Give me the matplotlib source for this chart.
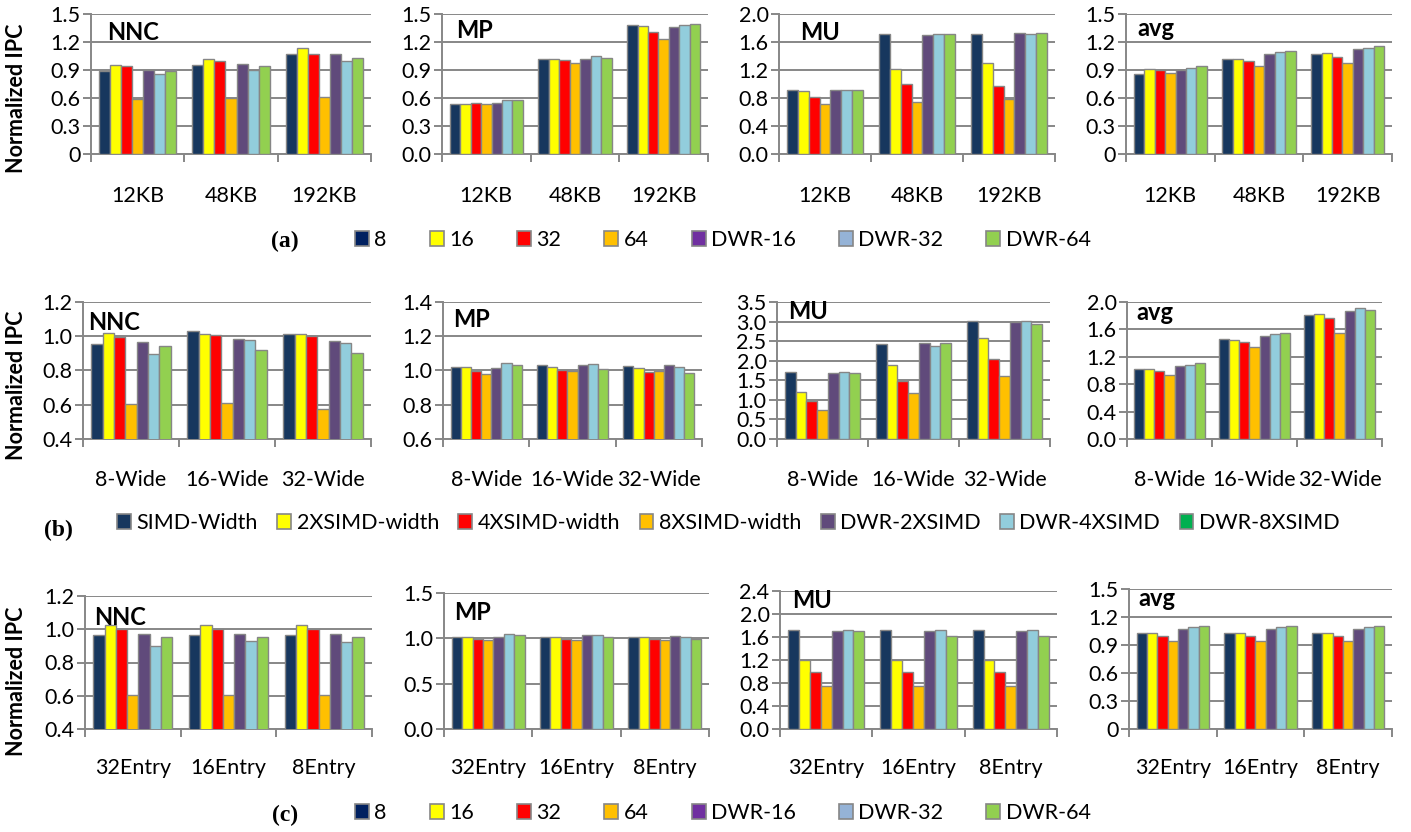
import numpy as np
import matplotlib
matplotlib.use("Agg")
import matplotlib.pyplot as plt
from matplotlib.patches import Patch
from matplotlib.ticker import FuncFormatter, MultipleLocator

plt.rcParams['font.family'] = ['Lato', 'DejaVu Sans']

benchmarks = ["NNC", "MP", "MU", "avg"]

series_a = ["8", "16", "32", "64", "DWR-16", "DWR-32", "DWR-64"]
series_b = ["SIMD-Width", "2XSIMD-width", "4XSIMD-width", "8XSIMD-width",
            "DWR-2XSIMD", "DWR-4XSIMD", "DWR-8XSIMD"]

cats_a = ["12KB", "48KB", "192KB"]
cats_b = ["8-Wide", "16-Wide", "32-Wide"]
cats_c = ["32Entry", "16Entry", "8Entry"]

# one row per category, one column per series
a_nnc = [[0.89, 0.95, 0.945, 0.594, 0.905, 0.856, 0.884],
         [0.956, 1.017, 0.999, 0.60, 0.967, 0.895, 0.942],
         [1.074, 1.135, 1.074, 0.61, 1.074, 1.0, 1.024]]
a_mp = [[0.54, 0.534, 0.544, 0.534, 0.551, 0.58, 0.58],
        [1.017, 1.017, 1.003, 0.977, 1.017, 1.045, 1.031],
        [1.379, 1.368, 1.307, 1.232, 1.36, 1.382, 1.396]]
a_mu = [[0.916, 0.893, 0.82, 0.711, 0.916, 0.91, 0.916],
        [1.718, 1.208, 0.993, 0.745, 1.704, 1.718, 1.709],
        [1.718, 1.303, 0.974, 0.788, 1.728, 1.714, 1.723]]
a_avg = [[0.856, 0.906, 0.899, 0.866, 0.902, 0.924, 0.945],
         [1.017, 1.02, 0.999, 0.938, 1.07, 1.088, 1.106],
         [1.074, 1.081, 1.042, 0.974, 1.124, 1.131, 1.156]]

b_nnc = [[0.956, 1.018, 0.997, 0.603, 0.964, 0.896, 0.945],
         [1.028, 1.016, 1.005, 0.613, 0.983, 0.981, 0.919],
         [1.016, 1.014, 0.999, 0.574, 0.974, 0.958, 0.904]]
b_mp = [[1.019, 1.021, 0.995, 0.978, 1.017, 1.044, 1.032],
        [1.032, 1.021, 1.003, 0.997, 1.03, 1.04, 1.011],
        [1.026, 1.013, 0.991, 0.997, 1.03, 1.019, 0.988]]
b_mu = [[1.712, 1.195, 0.983, 0.729, 1.686, 1.712, 1.695],
        [2.432, 1.89, 1.492, 1.17, 2.44, 2.373, 2.44],
        [3.017, 2.576, 2.034, 1.61, 3.0, 3.025, 2.932]]
b_avg = [[1.027, 1.027, 0.998, 0.939, 1.065, 1.085, 1.104],
         [1.462, 1.443, 1.419, 1.341, 1.501, 1.535, 1.55],
         [1.811, 1.826, 1.763, 1.554, 1.864, 1.908, 1.884]]

c_nnc = [[0.963, 1.025, 1.0, 0.605, 0.969, 0.90, 0.951],
         [0.963, 1.025, 1.0, 0.605, 0.969, 0.93, 0.951],
         [0.963, 1.025, 1.0, 0.605, 0.969, 0.923, 0.951]]
c_mp = [[1.018, 1.018, 0.996, 0.978, 1.018, 1.044, 1.033],
        [1.018, 1.018, 0.996, 0.978, 1.04, 1.037, 1.018],
        [1.018, 1.018, 0.996, 0.978, 1.026, 1.018, 0.996]]
c_mu = [[1.716, 1.2, 0.991, 0.742, 1.699, 1.716, 1.704],
        [1.716, 1.2, 0.991, 0.742, 1.699, 1.716, 1.623],
        [1.716, 1.2, 0.991, 0.742, 1.699, 1.716, 1.623]]
c_avg = [[1.025, 1.025, 1.0, 0.939, 1.068, 1.093, 1.108],
         [1.025, 1.025, 1.0, 0.939, 1.068, 1.093, 1.104],
         [1.025, 1.025, 1.0, 0.939, 1.068, 1.093, 1.104]]

# y axis (min, max, step, format) per panel
yax_a = [(0, 1.5, 0.3, "g"), (0, 1.5, 0.3, "f"), (0, 2.0, 0.4, "f"), (0, 1.5, 0.3, "g")]
yax_b = [(0.4, 1.2, 0.2, "f"), (0.6, 1.4, 0.2, "f"), (0, 3.5, 0.5, "f"), (0, 2.0, 0.4, "f")]
yax_c = [(0.4, 1.2, 0.2, "f"), (0, 1.5, 0.5, "f"), (0, 2.4, 0.4, "f"), (0, 1.5, 0.3, "g")]

bar_colors = ["#17375E", "#FFFF00", "#FF0000", "#FFC000", "#604A7B", "#92CDDC", "#92D050"]
leg_colors_a = ["#002060", "#FFFF00", "#FF0000", "#FFC000", "#7030A0", "#95B3D7", "#92D050"]
leg_colors_b = ["#17375E", "#FFFF00", "#FF0000", "#FFC000", "#604A7B", "#92CDDC", "#00B050"]
edge = "#868686"
grid_c = "#878787"

W, H = 1411, 832
fig = plt.figure(figsize=(W / 100, H / 100), dpi=100)

# layout in pixels: (x0, x1, top) per panel, bottom per row
rows = [
    dict(bot=154, pad=23, panels=[(91, 371, 14), (442, 708, 14), (779, 1055, 14), (1126, 1392, 14)],
         tdx=[16, 14, 21, 11], tyc=[0.87, 0.885, 0.87, 0.9]),
    dict(bot=439, pad=22, panels=[(83, 371, 302), (443, 702, 302), (777, 1050, 302), (1127, 1382, 302)],
         tdx=[5, 10, 11, 9], tyc=[0.85, 0.87, 0.93, 0.92]),
    dict(bot=729, pad=21, panels=[(85, 372, 596), (444, 709, 593), (780, 1057, 591), (1129, 1392, 589)],
         tdx=[9, 10, 12, 9], tyc=[0.84, 0.86, 0.93, 0.93]),
]
row_data = [[a_nnc, a_mp, a_mu, a_avg], [b_nnc, b_mp, b_mu, b_avg], [c_nnc, c_mp, c_mu, c_avg]]
row_cats = [cats_a, cats_b, cats_c]
row_yax = [yax_a, yax_b, yax_c]

bw = 0.118


def fmt_g(v, pos):
    if abs(v) < 1e-9:
        return "0"
    return "%.1f" % v


def fmt_f(v, pos):
    return "%.1f" % v


for r, row in enumerate(rows):
    for p, (x0, x1, top) in enumerate(row["panels"]):
        bot = row["bot"]
        ax = fig.add_axes([x0 / W, 1 - bot / H, (x1 - x0) / W, (bot - top) / H])
        vals = np.array(row_data[r][p])
        cats = row_cats[r]
        x = np.arange(len(cats))
        n = vals.shape[1]
        for i in range(n):
            ax.bar(x + (i - (n - 1) / 2) * bw, vals[:, i], bw, color=bar_colors[i],
                   edgecolor=edge, linewidth=1.0, zorder=3)
        ymin, ymax, step, f = row_yax[r][p]
        ax.set_ylim(ymin, ymax)
        ax.set_xlim(-0.5, len(cats) - 0.5)
        ax.yaxis.set_major_locator(MultipleLocator(step))
        ax.yaxis.set_major_formatter(FuncFormatter(fmt_g if f == "g" else fmt_f))
        ax.yaxis.grid(True, color=grid_c, linewidth=1.4, zorder=0)
        ax.set_axisbelow(True)
        for s in ["top", "right"]:
            ax.spines[s].set_visible(False)
        for s in ["left", "bottom"]:
            ax.spines[s].set_color(grid_c)
            ax.spines[s].set_linewidth(1.4)
        ax.tick_params(axis="y", direction="out", length=5.5, width=1.4, color=grid_c,
                       pad=2, labelsize=15.5)
        ax.set_xticks(x)
        ax.set_xticklabels(cats)
        ax.set_xticks(np.arange(len(cats) + 1) - 0.5, minor=True)
        ax.tick_params(axis="x", which="major", length=0, pad=row["pad"], labelsize=15.5)
        ax.tick_params(axis="x", which="minor", direction="out", length=6, width=1.4, color=grid_c)
        ax.text(row["tdx"][p] / (x1 - x0), row["tyc"][p], benchmarks[p], transform=ax.transAxes,
                fontsize=17, fontweight="bold", ha="left", va="center")

# y labels
for yc in [98, 385, 681]:
    fig.text(17 / W, 1 - yc / H, "Normalized IPC", rotation=90, fontsize=15.5,
             fontweight="bold", ha="center", va="center")


def add_legend(names, colors, x, y, colsp):
    handles = [Patch(facecolor=c, edgecolor=edge, linewidth=1.2) for c in colors]
    fig.legend(handles, names, loc="center left", bbox_to_anchor=(x / W, 1 - y / H),
               ncol=len(names), frameon=False, fontsize=15.5, borderpad=0, borderaxespad=0,
               handlelength=0.65, handleheight=0.65, handletextpad=0.25, columnspacing=colsp)


add_legend(series_a, leg_colors_a, 355, 240, 2.0)
add_legend(series_b, leg_colors_b, 117, 523, 0.9)
add_legend(series_a, leg_colors_a, 355, 813, 2.0)

for lab, xc, yc in [("(a)", 285, 241), ("(b)", 58, 530), ("(c)", 285, 815)]:
    fig.text(xc / W, 1 - yc / H, lab, family="Liberation Serif", fontweight="bold",
             fontsize=17, ha="center", va="center")

fig.savefig("out.png", dpi=100)
